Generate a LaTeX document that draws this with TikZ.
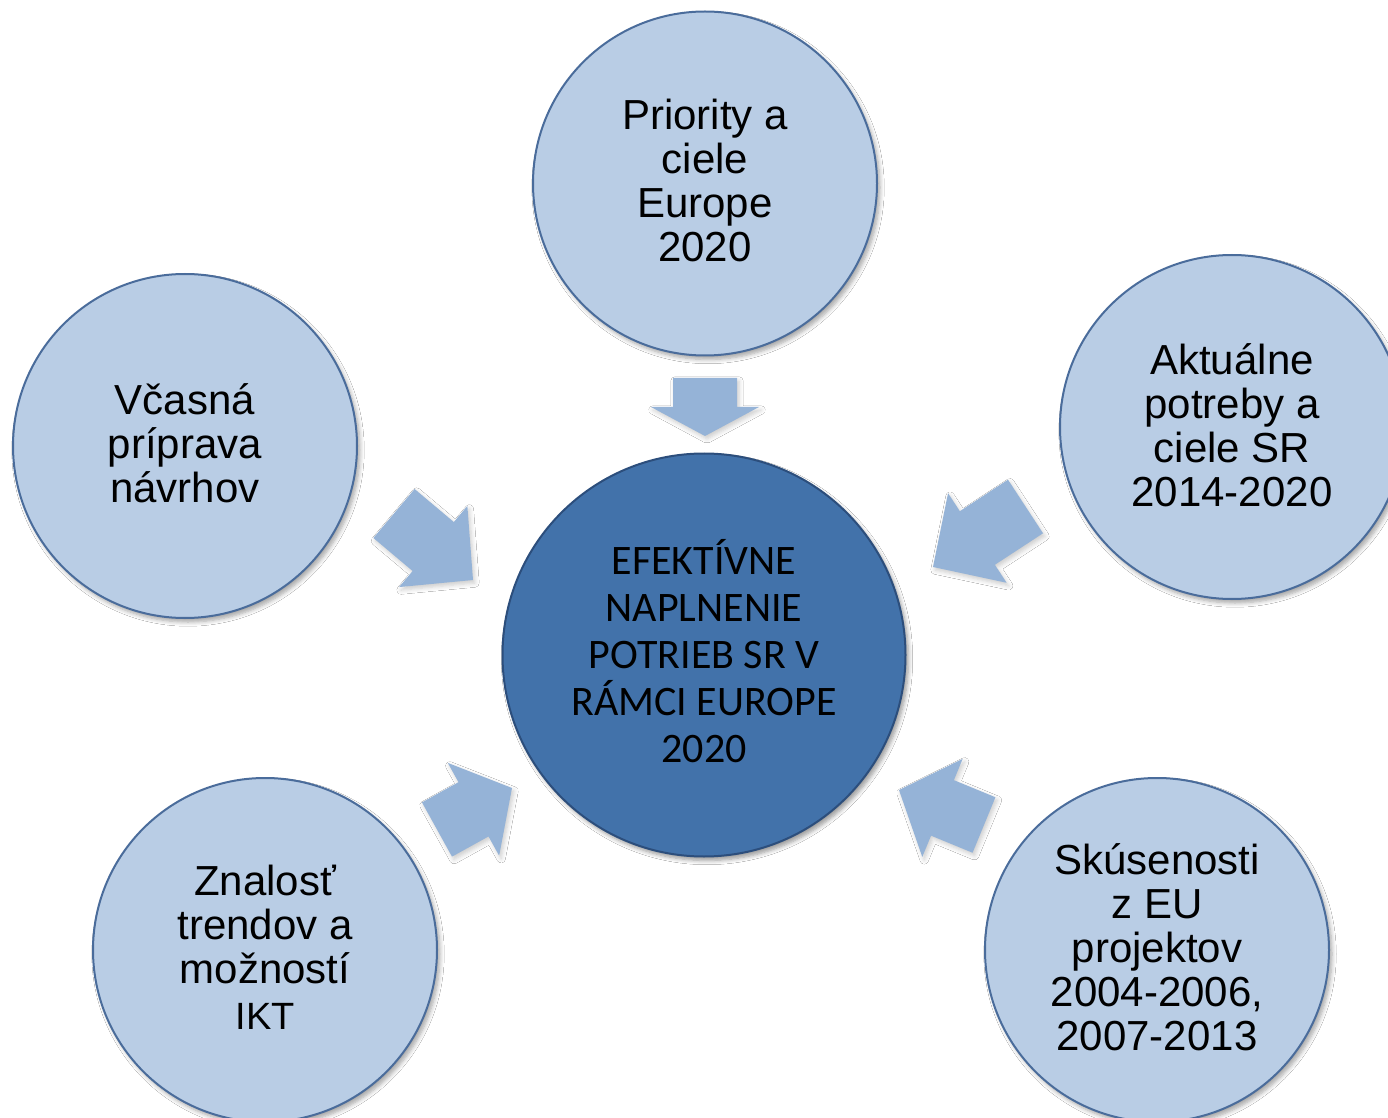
\documentclass[tikz,border=0pt]{standalone}
\usepackage{fontspec}
\setmainfont{Liberation Sans}
\newfontfamily\centerfont{Carlito}
\usetikzlibrary{calc,shadows.blur}
\definecolor{outerfill}{HTML}{B9CDE5}
\definecolor{outerline}{HTML}{4A6C9B}
\definecolor{innerfill}{HTML}{4272AA}
\definecolor{innerline}{HTML}{2C4E7C}
\definecolor{arrowfill}{HTML}{95B3D7}
\tikzset{
  outercirc/.style={circle, draw=outerline, line width=1pt, fill=outerfill,
    minimum size=172pt, inner sep=0pt,
    blur shadow={shadow xshift=1.5pt, shadow yshift=-2pt, shadow blur steps=6, shadow opacity=35}},
  innercirc/.style={circle, draw=innerline, line width=1pt, fill=innerfill,
    minimum size=201.5pt, inner sep=0pt,
    blur shadow={shadow xshift=1.5pt, shadow yshift=-2pt, shadow blur steps=6, shadow opacity=40}},
  outertext/.style={align=center, inner sep=0pt, font=\fontsize{21}{22}\selectfont},
  innertext/.style={align=center, inner sep=0pt, font=\centerfont\fontsize{21}{23.5}\selectfont},
  blockarrowstyle/.style={fill=arrowfill,
    blur shadow={shadow xshift=1pt, shadow yshift=-1.5pt, shadow blur steps=5, shadow opacity=20}}
}
% #1 tail, #2 tip (named coordinates), #3 shaft half width, #4 head half width, #5 head length
\newcommand{\blockarr}[5]{%
  \path ($(#2)!#5!(#1)$) coordinate (#1-h);
  \path[blockarrowstyle]
    ($(#1)!#3!90:(#2)$) -- ($(#1-h)!#3!90:(#2)$) -- ($(#1-h)!#4!90:(#2)$) --
    (#2) --
    ($(#1-h)!#4!-90:(#2)$) -- ($(#1-h)!#3!-90:(#2)$) -- ($(#1)!#3!-90:(#2)$) -- cycle;
}
\begin{document}
\begin{tikzpicture}[x=0.5pt,y=-0.5pt]
\clip (0,0) rectangle (1388,1118);
\fill[white] (0,0) rectangle (1388,1118);

\node[outercirc] (top) at (705,183.5) {};
\node[outercirc] (left) at (185,446) {};
\node[outercirc] (right) at (1232,427) {};
\node[outercirc] (botleft) at (265,950) {};
\node[outercirc] (botright) at (1157,950) {};
\node[innercirc] (center) at (704,655) {};

\node[outertext] (toptext) at ($(top.center)+(0,-3)$) {Priority a\\ciele\\Europe\\2020};
\node[outertext] (lefttext) at ($(left.center)+(0,-3)$) {Včasná\\príprava\\návrhov};
\node[outertext] (righttext) at ($(right.center)+(0,-2)$) {Aktuálne\\potreby a\\ciele SR\\2014-2020};
\node[outertext] (botlefttext) at ($(botleft.center)+(0,-3)$) {Znalosť\\trendov a\\možností\\[1pt]{\fontsize{19}{20}\selectfont IKT}};
\node[outertext] (botrighttext) at ($(botright.center)+(0,-3)$) {Skúsenosti\\z EU\\projektov\\2004-2006,\\2007-2013};
\node[innertext] (centertext) at ($(center.center)+(0,-4)$) {EFEKTÍVNE\\NAPLNENIE\\POTRIEB SR V\\RÁMCI EUROPE\\2020};

\coordinate (aT) at (705,378);   \coordinate (aTtip) at (705,436);
\coordinate (aL) at (394,513.5); \coordinate (aLtip) at (473,580);
\coordinate (aR) at (1025.5,506.5); \coordinate (aRtip) at (933,567);
\coordinate (aBL) at (437,829.5); \coordinate (aBLtip) at (512,788);
\coordinate (aBR) at (984,825);  \coordinate (aBRtip) at (899,790);

\blockarr{aT}{aTtip}{16pt}{27pt}{14.5pt}
\blockarr{aL}{aLtip}{16pt}{26.5pt}{26pt}
\blockarr{aR}{aRtip}{16pt}{26.75pt}{26.5pt}
\blockarr{aBL}{aBLtip}{15.5pt}{26.5pt}{22pt}
\blockarr{aBR}{aBRtip}{15pt}{26.5pt}{23.5pt}
\end{tikzpicture}
\end{document}
